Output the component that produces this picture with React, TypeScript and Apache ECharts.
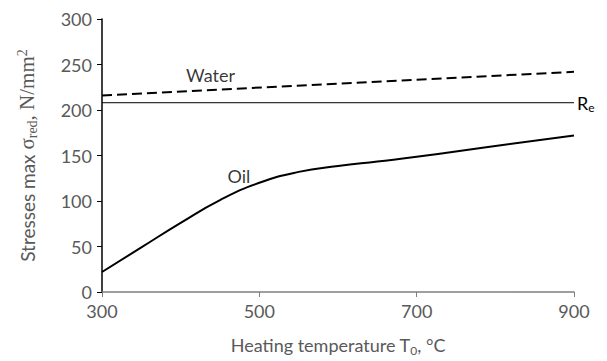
import React, { useEffect, useRef } from "react";
import * as echarts from "echarts";

// Heating temperature T0, °C
const oilTemps = [300, 350, 400, 450, 500, 550, 600, 650, 700, 800, 900];
// Max reduced stresses after oil quenching, N/mm²
const oilStress = [22, 49, 76, 101, 120, 132, 138.5, 143.5, 148.5, 160.5, 172];

const waterTemps = [300, 900];
const waterStress = [216, 242];

// Yield strength Re
const reTemps = [300, 900];
const reStress = [208, 208];

// Curve labels: [temperature, stress, text]
const curveLabels: [number, number, string][] = [
  [438, 238, "Water"],
  [474, 127, "Oil"],
];

const xTicks = [300, 500, 700, 900];
const yTicks = [0, 50, 100, 150, 200, 250, 300];

const sans = "Lato, 'Open Sans', sans-serif";
const serif = "'Liberation Serif', 'DejaVu Serif', serif";
const grey = "#595959";

export default function App() {
  const ref = useRef<HTMLDivElement>(null);

  useEffect(() => {
    if (!ref.current) return;
    const chart = echarts.init(ref.current, undefined, { renderer: "svg" });
    const pairs = (xs: number[], ys: number[]) => xs.map((x, i) => [x, ys[i]]);

    chart.setOption({
      animation: false,
      backgroundColor: "#ffffff",
      grid: { left: 102, right: 33, top: 19, bottom: 69 },
      xAxis: {
        type: "value",
        min: xTicks[0],
        max: xTicks[xTicks.length - 1],
        interval: 200,
        name: "Heating temperature T{sub|0}, °C",
        nameLocation: "middle",
        nameGap: 42,
        nameTextStyle: {
          color: grey,
          fontFamily: sans,
          fontSize: 18,
          rich: {
            sub: { fontSize: 12, color: grey, fontFamily: sans, padding: [10, 0, 0, 0] },
          },
        },
        axisLine: { show: true, lineStyle: { color: "#7f7f7f", width: 1.5 } },
        axisTick: { show: true, inside: false, length: 5, lineStyle: { color: "#7f7f7f" } },
        axisLabel: { color: grey, fontFamily: sans, fontSize: 18, margin: 10 },
        splitLine: { show: false },
      },
      yAxis: {
        type: "value",
        min: yTicks[0],
        max: yTicks[yTicks.length - 1],
        interval: 50,
        name: "Stresses max {s|σ}{sub|red}{s|, N/mm}{sup|2}",
        nameLocation: "middle",
        nameGap: 63,
        nameRotate: 90,
        nameTextStyle: {
          color: grey,
          fontFamily: sans,
          fontSize: 19,
          rich: {
            s: { fontFamily: serif, fontSize: 21, color: grey },
            sub: { fontFamily: serif, fontSize: 14, color: grey, padding: [10, 0, 0, 0] },
            sup: { fontFamily: serif, fontSize: 14, color: grey, padding: [0, 0, 10, 0] },
          },
        },
        axisLine: { show: true, lineStyle: { color: "#000000", width: 1.5 } },
        axisTick: { show: true, inside: false, length: 5, lineStyle: { color: "#000000" } },
        axisLabel: { color: grey, fontFamily: sans, fontSize: 18, margin: 10 },
        splitLine: { show: false },
      },
      series: [
        {
          name: "Water",
          type: "line",
          data: pairs(waterTemps, waterStress),
          symbol: "none",
          lineStyle: { color: "#000", width: 2, type: [10, 5] },
        },
        {
          name: "Oil",
          type: "line",
          data: pairs(oilTemps, oilStress),
          symbol: "none",
          smooth: 0.5,
          lineStyle: { color: "#000", width: 2 },
        },
        {
          name: "Re",
          type: "line",
          data: pairs(reTemps, reStress),
          symbol: "none",
          lineStyle: { color: "#000", width: 1 },
          endLabel: {
            show: true,
            formatter: "R{sub|e}",
            color: "#000",
            fontFamily: sans,
            fontSize: 18,
            distance: 3,
            rich: {
              sub: { fontSize: 12, color: "#000", fontFamily: sans, padding: [10, 0, 0, 0] },
            },
          },
        },
        {
          name: "labels",
          type: "scatter",
          data: curveLabels.map(([t, v, text]) => ({ value: [t, v], name: text })),
          symbolSize: 1,
          itemStyle: { color: "rgba(0,0,0,0)" },
          silent: true,
          label: {
            show: true,
            position: "inside",
            formatter: (p: any) => p.name,
            color: "#000",
            fontFamily: sans,
            fontSize: 18,
          },
        },
      ],
    });

    return () => chart.dispose();
  }, []);

  return <div ref={ref} style={{ width: 607, height: 361, position: "absolute", left: 0, top: 0 }} />;
}
